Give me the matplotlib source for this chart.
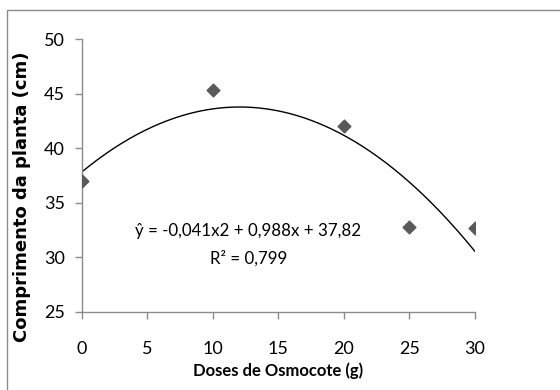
import matplotlib.pyplot as plt
import numpy as np
from matplotlib.patches import Rectangle

plt.rcParams['font.family'] = ['Lato', 'DejaVu Sans']

# Dados
doses = [0, 10, 20, 25, 30]
comprimento = [37.0, 45.3, 42.0, 32.8, 32.7]
coef = [-0.041, 0.988, 37.82]   # ajuste polinomial de 2a ordem
r2 = 0.799

fig = plt.figure(figsize=(5.6, 3.9), dpi=100)
ax = fig.add_axes([0.146, 0.2, 0.702, 0.7])

# borda do gráfico (estilo Excel)
fig.patches.append(Rectangle((7 / 560, -0.1), 1.2, 1 - 10 / 390 + 0.1,
                             transform=fig.transFigure, fill=False,
                             edgecolor='#8c8c8c', linewidth=1.0))

ax.scatter(doses, comprimento, marker='D', s=42, color='#595959', zorder=3)

xs = np.linspace(0, 30, 200)
ax.plot(xs, np.polyval(coef, xs), color='black', linewidth=1.0)

ax.set_xlim(0, 30)
ax.set_ylim(25, 50)
ax.set_xticks([0, 5, 10, 15, 20, 25, 30])
ax.set_yticks([25, 30, 35, 40, 45, 50])

for s in ['top', 'right']:
    ax.spines[s].set_visible(False)
for s in ['left', 'bottom']:
    ax.spines[s].set_color('#8c8c8c')
    ax.spines[s].set_linewidth(1.0)
ax.tick_params(axis='both', colors='#8c8c8c', labelcolor='black',
               labelsize=13, length=5, width=1.0)
ax.tick_params(axis='x', pad=16)
ax.tick_params(axis='y', pad=7)

ax.set_xlabel('Doses de Osmocote (g)', fontsize=12, fontweight='bold', labelpad=4)
fig.text(22 / 560, 1 - 197 / 390, 'Comprimento da planta (cm)', rotation=90,
         ha='center', va='center', fontsize=13, fontweight='bold',
         family='DejaVu Sans')

ax.text(12.7, 32.4, 'ŷ = -0,041x2 + 0,988x + 37,82', ha='center', va='center', fontsize=12.2)
ax.text(12.7, 29.9, 'R² = 0,799', ha='center', va='center', fontsize=12.2)

fig.savefig('out.png', dpi=100)
